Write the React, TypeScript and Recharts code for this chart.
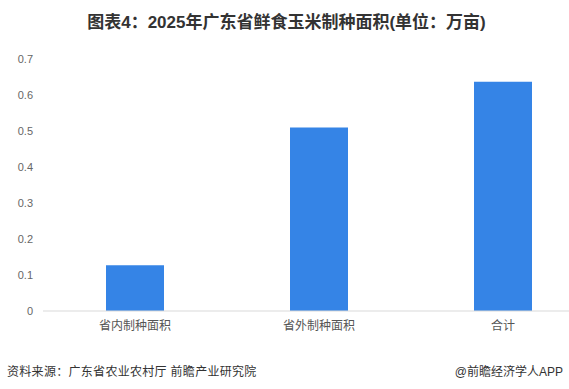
import React from 'react';
import { BarChart, Bar, XAxis, YAxis } from 'recharts';

const categories = ['省内制种面积', '省外制种面积', '合计'];
const values = [0.127, 0.51, 0.637];
const yTicks = [0, 0.1, 0.2, 0.3, 0.4, 0.5, 0.6, 0.7];

const data = categories.map((name, i) => ({ name, value: values[i] }));

const FONT = '"Liberation Sans", "Noto Sans CJK SC", sans-serif';

export default function App() {
  return (
    <div
      style={{
        position: 'absolute',
        left: 0,
        top: 0,
        width: 569,
        height: 389,
        overflow: 'hidden',
        background: '#fff',
        fontFamily: FONT,
      }}
    >
      <div
        style={{
          position: 'absolute',
          top: 8,
          left: 0,
          width: 573,
          textAlign: 'center',
          fontSize: 17,
          fontWeight: 'bold',
          color: '#333',
        }}
      >
        图表4：2025年广东省鲜食玉米制种面积(单位：万亩)
      </div>
      <div style={{ position: 'absolute', top: 0, left: 0 }}>
        <BarChart
          width={600}
          height={389}
          data={data}
          margin={{ top: 59, right: 5, bottom: 48, left: 0 }}
          barSize={58}
        >
          <XAxis
            dataKey="name"
            height={30}
            tickLine={false}
            axisLine={{ stroke: '#d9d9d9' }}
            tick={{ fill: '#555', fontSize: 12, fontFamily: FONT }}
            tickMargin={4}
            interval={0}
          />
          <YAxis
            width={43}
            domain={[0, 0.7]}
            ticks={yTicks}
            axisLine={false}
            tickLine={false}
            tickMargin={4}
            tick={{ fill: '#666', fontSize: 11, fontFamily: FONT }}
          />
          <Bar dataKey="value" fill="#3584E6" isAnimationActive={false} />
        </BarChart>
      </div>
      <div
        style={{
          position: 'absolute',
          top: 362,
          left: 7,
          fontSize: 12,
          letterSpacing: 0.3,
          color: '#333',
        }}
      >
        资料来源：广东省农业农村厅 前瞻产业研究院
      </div>
      <div
        style={{
          position: 'absolute',
          top: 362,
          right: 6,
          fontSize: 12,
          color: '#333',
        }}
      >
        @前瞻经济学人APP
      </div>
    </div>
  );
}
